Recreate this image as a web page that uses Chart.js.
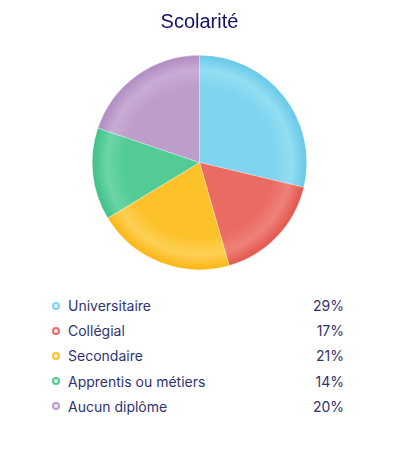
<!DOCTYPE html>
<html>
<head>
<meta charset="utf-8">
<script src="https://cdn.jsdelivr.net/npm/chart.js@4"></script>
<style>
body{margin:0;background:#fff;font-family:Inter,"Noto Sans",sans-serif;}
#wrap{position:relative;width:399px;height:270px;}
#legend{list-style:none;margin:0;padding:0;position:absolute;left:52px;top:293px;width:292px;}
#legend li{display:flex;align-items:center;height:25.2px;font-size:14px;color:#2f3272;}
#legend .dot{width:4px;height:4px;border-radius:50%;border:2.5px solid;margin-right:8px;}
#legend .lbl{flex:1;}
</style>
</head>
<body>
<div id="wrap"><canvas id="pieChart"></canvas></div>
<ul id="legend"></ul>
<script>
// Scolarité
const labels = ['Universitaire','Collégial','Secondaire','Apprentis ou métiers','Aucun diplôme'];
const values = [29,17,21,14,20];
const colors = ['#7fd4ef','#ea6b62','#fdc22a','#52cb95','#bd9dca'];
const lights = ['#92def3','#ef8179','#fdd055','#6bd6a8','#c8acd4'];
const darks = ['#66c8e8','#e2554c','#fbb512','#3cc086','#b08bc2'];

function shade(ctx){
  const i = ctx.dataIndex;
  const area = ctx.chart.chartArea;
  if(!area) return colors[i];
  const cx = (area.left+area.right)/2, cy = (area.top+area.bottom)/2;
  const r = Math.min(area.right-area.left, area.bottom-area.top)/2;
  const g = ctx.chart.ctx.createRadialGradient(cx,cy,0,cx,cy,r);
  g.addColorStop(0, colors[i]);
  g.addColorStop(0.7, colors[i]);
  g.addColorStop(0.86, lights[i]);
  g.addColorStop(1, darks[i]);
  return g;
}

new Chart(document.getElementById("pieChart"),{
type:'pie',
data:{
labels:labels,
datasets:[{
data:values,
backgroundColor:shade,
borderColor:'rgba(255,255,255,0.6)',
borderWidth:0.5
}]
},
options:{
responsive:true,
maintainAspectRatio:false,
animation:false,
plugins:{
legend:{display:false},
tooltip:{enabled:false},
title:{
display:true,
text:'Scolarité',
color:'#13136a',
font:{family:'"Liberation Sans", Arial, sans-serif',size:20,weight:'normal'},
padding:{top:10,bottom:21}
}
}
}
});

const ul = document.getElementById('legend');
labels.forEach((l,i)=>{
  const li = document.createElement('li');
  li.innerHTML = '<span class="dot" style="border-color:'+colors[i]+';background:'+lights[i]+'33"></span><span class="lbl">'+l+'</span><span>'+values[i]+'%</span>';
  ul.appendChild(li);
});
</script>
</body>
</html>
